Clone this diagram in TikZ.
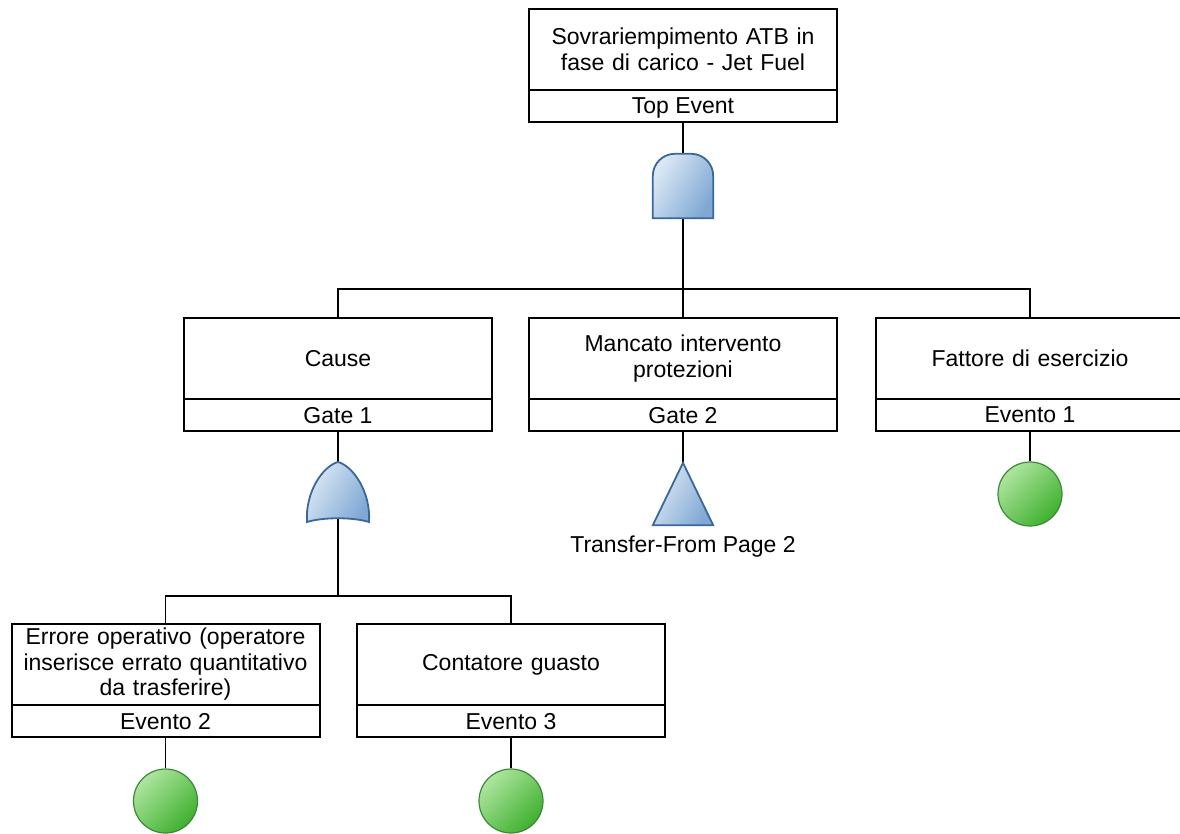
\documentclass[tikz,border=0pt]{standalone}
\usepackage{fontspec}
\newfontfamily\libsans{Liberation Sans}
\definecolor{gateL}{HTML}{DCE9F5}
\definecolor{gateD}{HTML}{80A8D4}
\definecolor{gateB}{HTML}{3B679B}
\definecolor{evL}{HTML}{AEE59F}
\definecolor{evD}{HTML}{3FB02F}
\definecolor{evB}{HTML}{3A8A37}
\tikzset{
 fnt/.style={font=\libsans\fontsize{23}{25.5}\selectfont},
 txt/.style={fnt, text depth=0pt},
 evbox/.style={fnt, draw, line width=2pt, minimum width=308pt, minimum height=81pt, inner sep=0pt, text width=304pt, align=center},
 evlab/.style={txt, draw, line width=2pt, minimum width=308pt, minimum height=32pt, inner sep=0pt},
 conn/.style={line width=1.5pt},
 gatesym/.style={minimum width=60pt, minimum height=64pt, inner sep=0pt},
 gatefill/.style={draw=gateB, line width=1.8pt, top color=gateL, bottom color=gateD, shading angle=60},
 basicev/.style={circle, minimum size=64pt, inner sep=0pt, draw=evB, line width=1.2pt, top color=evL, bottom color=evD, shading angle=45},
}
\begin{document}
\begin{tikzpicture}[x=1pt,y=-1pt]
\useasboundingbox (0,0) rectangle (1180,833);
\clip (0,0) rectangle (1180,833);
% event boxes
\node[evbox] (top) at (683,49.5) {Sovrariempimento ATB in\\fase di carico - Jet Fuel};
\node[evlab] (topl) at (683,106) {Top Event};
\node[evbox] (cause) at (338,358.5) {Cause};
\node[evlab] (causel) at (338,415) {Gate 1};
\node[evbox] (manc) at (683,358.5) {Mancato intervento\\protezioni};
\node[evlab] (mancl) at (683,415) {Gate 2};
\node[evbox] (fatt) at (1030,358.5) {Fattore di esercizio};
\node[evlab] (fattl) at (1030,415) {Evento 1};
\node[evbox] (err) at (165.5,664.5) {Errore operativo (operatore\\inserisce errato quantitativo\\da trasferire)};
\node[evlab] (errl) at (165.5,721) {Evento 2};
\node[evbox] (cont) at (511,664.5) {Contatore guasto};
\node[evlab] (contl) at (511,721) {Evento 3};
% gate placeholders
\node[gatesym] (and) at (683,186) {};
\node[gatesym, minimum width=62pt, minimum height=60pt] (or) at (338,492) {};
\node[gatesym, minimum height=62pt] (tri) at (683,494) {};
% basic events
\node[basicev] (e1) at (1030,494) {};
\node[basicev] (e2) at (165.5,801) {};
\node[basicev] (e3) at (511,801) {};
\node[txt, anchor=base] (trlab) at (683,552) {Transfer-From Page 2};
% junctions
\coordinate (j1) at (683,289);
\coordinate (j2) at (338,596);
% connectors
\draw[conn] (topl.south) -- (and.north);
\draw[conn] (and.center) -- (manc.north);
\draw[conn] (cause.north) -- (cause.north |- j1) -- (fatt.north |- j1) -- (fatt.north);
\draw[conn] (causel.south) -- (or.north);
\draw[conn] (or.center) -- (j2);
\draw[conn] (err.north) -- (err.north |- j2) -- (cont.north |- j2) -- (cont.north);
\draw[conn] (mancl.south) -- (tri.north);
\draw[conn] (fattl.south) -- (e1.north);
\draw[conn] (errl.south) -- (e2.north);
\draw[conn] (contl.south) -- (e3.north);
% gate shapes
\draw[gatefill] (and.south west) [rounded corners=22pt] -- (and.north west) -- (and.north east) [sharp corners] -- (and.south east) -- cycle;
\begin{scope}[shift={(or.center)}]
\draw[gatefill] (-31,30) .. controls (-33,0) and (-15,-26) .. (0,-30) .. controls (15,-26) and (33,0) .. (31,30) .. controls (15,25) and (-15,25) .. (-31,30) -- cycle;
\end{scope}
\draw[gatefill] (tri.south west) -- (tri.north) -- (tri.south east) -- cycle;
\end{tikzpicture}
\end{document}
